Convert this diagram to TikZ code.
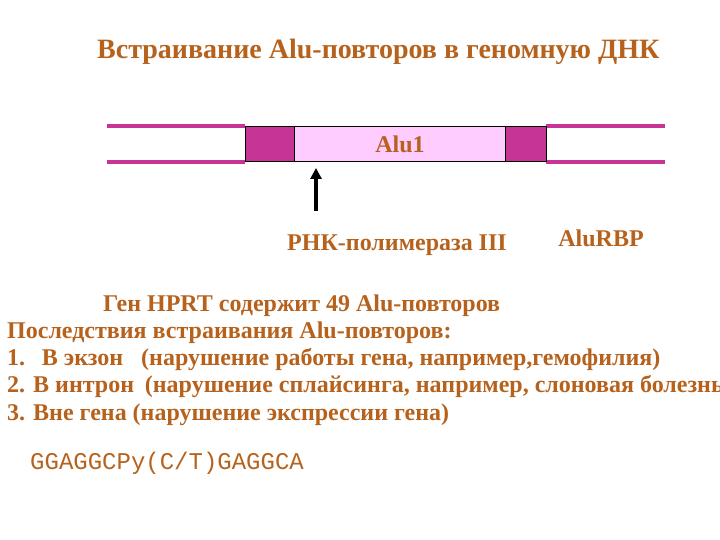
\documentclass[tikz,border=0pt]{standalone}
\usepackage{fontspec}
\setmainfont{Liberation Serif}
\setmonofont{Liberation Mono}
\usetikzlibrary{arrows.meta}
\definecolor{txt}{RGB}{182,98,28}
\definecolor{mag}{RGB}{198,52,150}
\definecolor{pinkf}{RGB}{255,204,255}
\tikzset{
  lbl/.style={text=txt,font=\bfseries\fontsize{24}{28}\selectfont,inner sep=0pt,anchor=base west},
  dna/.style={draw=mag,line width=4pt},
  flank/.style={draw=black,fill=mag,line width=0.8pt},
}
\begin{document}
\begin{tikzpicture}[x=1pt,y=-1pt]
\useasboundingbox (0,0) rectangle (720,540);
\clip (0,0) rectangle (720,540);
% title
\node[lbl,font=\bfseries\fontsize{28}{32}\selectfont] (title) at (97,59) {Встраивание Alu-повторов в геномную ДНК};
% DNA lines
\coordinate (l1a) at (107,126); \coordinate (l1b) at (245,126);
\coordinate (l2a) at (107,162); \coordinate (l2b) at (245,162);
\coordinate (r1a) at (546,126); \coordinate (r1b) at (665,126);
\coordinate (r2a) at (546,162); \coordinate (r2b) at (665,162);
\draw[dna] (l1a) -- (l1b);
\draw[dna] (l2a) -- (l2b);
\draw[dna] (r1a) -- (r1b);
\draw[dna] (r2a) -- (r2b);
% boxes
\draw[draw=black,fill=pinkf,line width=0.8pt] (294,126) rectangle (505,161);
\draw[flank] (245,126) rectangle (294,161);
\draw[flank] (505,126) rectangle (546,161);
\node[lbl,anchor=base,font=\bfseries\fontsize{24}{28}\selectfont] (alu) at (400,153) {Alu1};
% arrow
\coordinate (ar0) at (316,211);
\coordinate (ar1) at (316,168);
\draw[line width=3.5pt,-{Triangle[width=11pt,length=11pt]}] (ar0) -- (ar1);
% labels
\node[lbl,anchor=base] (pol) at (397,250) {РНК-полимераза III};
\node[lbl,anchor=base] (rbp) at (601,247) {AluRBP};
% text block
\node[lbl] (t1) at (103,311) {Ген HPRT содержит 49 Alu-повторов};
\node[lbl] (t2) at (7,338) {Последствия встраивания Alu-повторов:};
\node[lbl] (t3) at (7,365) {1.\hspace{0.7em}В экзон\hspace{0.5em} (нарушение работы гена, например,гемофилия)};
\node[lbl] (t4) at (7,392) {2. В интрон\hspace{0.2em} (нарушение сплайсинга, например, слоновая болезнь};
\node[lbl] (t5) at (7,420) {3. Вне гена (нарушение экспрессии гена)};
\node[lbl,font=\ttfamily\fontsize{24}{28}\selectfont] (seq) at (30,469) {GGAGGCPy(C/T)GAGGCA};
\end{tikzpicture}
\end{document}
